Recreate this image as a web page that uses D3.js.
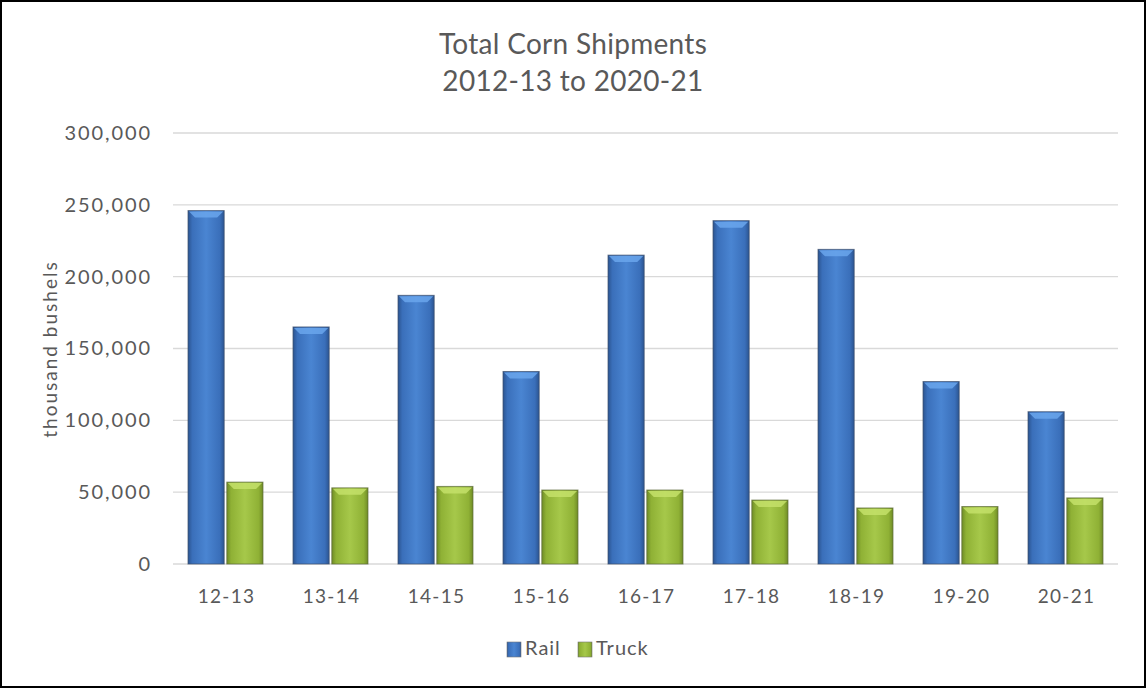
<!DOCTYPE html>
<html><head><meta charset="utf-8">
<script src="https://cdn.jsdelivr.net/npm/d3@7"></script>
<style>body{margin:0;background:#fff}svg{display:block}text{font-family:Lato,"Open Sans",sans-serif;fill:#595959}</style>
</head><body>
<svg id="c" width="1146" height="688"></svg>
<script>
const categories = ["12-13","13-14","14-15","15-16","16-17","17-18","18-19","19-20","20-21"];
const rail = [246000,165000,187000,134000,215000,239000,219000,127000,106000];
const truck = [57000,53000,54000,51500,51500,44500,39000,40000,46000];
const seriesNames = ["Rail","Truck"];
const yTicks = [0,50000,100000,150000,200000,250000,300000];

const svg = d3.select("#c");
const W=1146,H=688;
svg.append("rect").attr("x",1).attr("y",1).attr("width",W-2).attr("height",H-2).attr("fill","#fff").attr("stroke","#000").attr("stroke-width",2);

const defs = svg.append("defs");
function grad(id, dark, mid, light){
  const g = defs.append("linearGradient").attr("id",id).attr("x1","0").attr("x2","1").attr("y1","0").attr("y2","0");
  g.append("stop").attr("offset","0").attr("stop-color",dark);
  g.append("stop").attr("offset","0.12").attr("stop-color",mid);
  g.append("stop").attr("offset","0.5").attr("stop-color",light);
  g.append("stop").attr("offset","0.88").attr("stop-color",mid);
  g.append("stop").attr("offset","1").attr("stop-color",dark);
}
grad("gRail","#2b5490","#3a6fba","#4a85d2");
grad("gTruck","#6f8b26","#8fb135","#a6c84a");

const x0 = d3.scaleBand().domain(categories).range([173,1118]).paddingInner(0.2857).paddingOuter(0.1428);
const x1 = d3.scaleBand().domain(seriesNames).range([0,x0.bandwidth()]).paddingInner(0.067);
const y = d3.scaleLinear().domain([0,300000]).range([564,133]);

// gridlines
svg.append("g").selectAll("line").data(yTicks).join("line")
  .attr("x1",173).attr("x2",1118).attr("y1",d=>y(d)).attr("y2",d=>y(d))
  .attr("stroke","#d9d9d9").attr("stroke-width",1.3);

// y axis labels
const yAxis = d3.axisLeft(y).tickValues(yTicks).tickFormat(d3.format(",")).tickSize(0).tickPadding(0);
const ya = svg.append("g").attr("transform","translate(152,0)").call(yAxis);
ya.select(".domain").remove();
ya.selectAll("text").style("font-size","20px").style("letter-spacing","1.9px").attr("fill","#595959").style("font-family","Lato,sans-serif");

// x axis labels
const xAxis = d3.axisBottom(x0).tickSize(0).tickPadding(0);
const xa = svg.append("g").attr("transform","translate(1,589)").call(xAxis);
xa.select(".domain").remove();
xa.selectAll("text").style("font-size","19px").style("letter-spacing","1.3px").attr("fill","#595959").style("font-family","Lato,sans-serif");

const data = categories.map((c,i)=>({c, vals:[{s:"Rail",v:rail[i]},{s:"Truck",v:truck[i]}]}));
const gs = svg.append("g").selectAll("g").data(data).join("g").attr("transform",d=>`translate(${x0(d.c)},0)`);
const bars = gs.selectAll("g").data(d=>d.vals).join("g");
bars.append("rect")
  .attr("x",d=>x1(d.s)).attr("width",x1.bandwidth())
  .attr("y",d=>y(d.v)).attr("height",d=>y(0)-y(d.v))
  .attr("fill",d=>d.s==="Rail"?"url(#gRail)":"url(#gTruck)")
  .attr("stroke",d=>d.s==="Rail"?"#3d4f6a":"#5d6a3a").attr("stroke-width",1).attr("stroke-opacity",0.7);
// top bevel
bars.append("path")
  .attr("d",d=>{const xl=x1(d.s), w=x1.bandwidth(), t=y(d.v); return `M${xl+1},${t+1}L${xl+w-1},${t+1}L${xl+w-7},${t+7}L${xl+7},${t+7}Z`;})
  .attr("fill",d=>d.s==="Rail"?"#6aa6ec":"#c4e06a").attr("opacity",0.85);

// title
svg.append("text").attr("x",573).attr("y",54).attr("text-anchor","middle").style("font-size","28px").style("letter-spacing","0.3px").text("Total Corn Shipments");
svg.append("text").attr("x",573).attr("y",91).attr("text-anchor","middle").style("font-size","28px").style("letter-spacing","0.3px").text("2012-13 to 2020-21");

// y axis title
svg.append("text").attr("transform","translate(57,349) rotate(-90)").attr("text-anchor","middle").style("font-size","19px").style("letter-spacing","2px").text("thousand bushels");

// legend
const leg = svg.append("g").selectAll("g").data(seriesNames).join("g")
  .attr("transform",(d,i)=>`translate(${i===0?507:578},642)`);
leg.append("rect").attr("width",14).attr("height",15)
  .attr("fill",d=>d==="Rail"?"url(#gRail)":"url(#gTruck)").attr("stroke","#777").attr("stroke-width",0.6);
leg.append("text").attr("x",18).attr("y",13).style("font-size","20px").style("letter-spacing","1px").text(d=>d);
</script>
</body></html>
